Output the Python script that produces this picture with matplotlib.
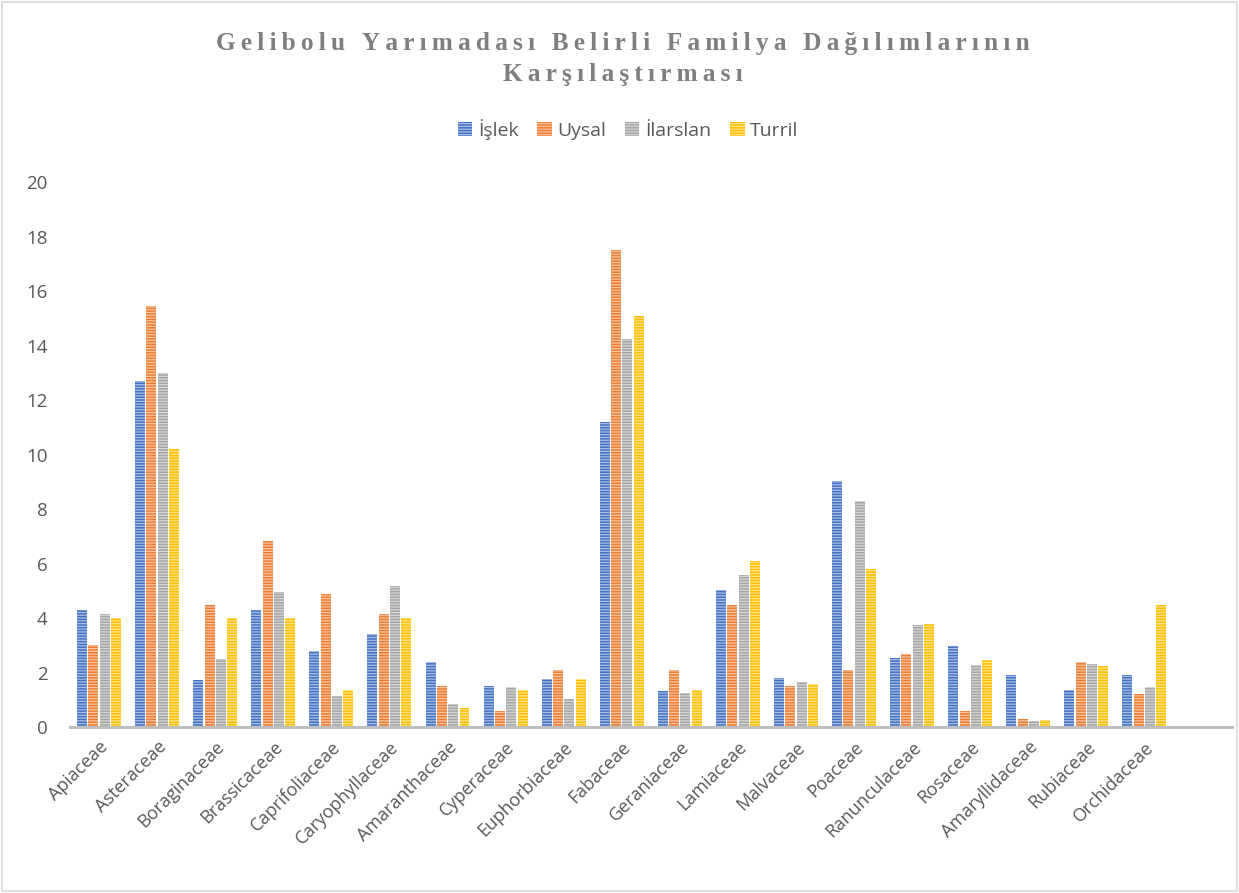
import matplotlib
matplotlib.use("Agg")
import matplotlib.pyplot as plt
import numpy as np
from matplotlib.patches import Rectangle

categories = ["Apiaceae", "Asteraceae", "Boraginaceae", "Brassicaceae", "Caprifoliaceae",
              "Caryophyllaceae", "Amaranthaceae", "Cyperaceae", "Euphorbiaceae", "Fabaceae",
              "Geraniaceae", "Lamiaceae", "Malvaceae", "Poaceae", "Ranunculaceae",
              "Rosaceae", "Amaryllidaceae", "Rubiaceae", "Orchidaceae"]
series_names = ["İşlek", "Uysal", "İlarslan", "Turril"]
islek    = [4.29, 12.7, 1.72, 4.29, 2.80, 3.41, 2.38, 1.50, 1.76, 11.2, 1.32, 5.03, 1.80, 9.03, 2.53, 2.97, 1.91, 1.36, 1.91]
uysal    = [3.00, 15.45, 4.48, 6.83, 4.88, 4.15, 1.50, 0.59, 2.09, 17.5, 2.09, 4.48, 1.50, 2.09, 2.68, 0.59, 0.30, 2.39, 1.21]
ilarslan = [4.15, 13.0, 2.50, 4.95, 1.14, 5.17, 0.84, 1.47, 1.03, 14.24, 1.25, 5.58, 1.65, 8.29, 3.74, 2.28, 0.22, 2.31, 1.47]
turril   = [4.00, 10.2, 4.00, 4.00, 1.36, 4.00, 0.70, 1.36, 1.76, 15.08, 1.36, 6.09, 1.58, 5.80, 3.78, 2.46, 0.26, 2.24, 4.48]
colors = ["#4472c4", "#ed7d31", "#a5a5a5", "#ffc000"]
yticks = list(range(0, 21, 2))

plt.rcParams['hatch.linewidth'] = 0.9
fig = plt.figure(figsize=(12.39, 8.93), dpi=100)
fig.patches.append(Rectangle((0.002, 0.002), 0.996, 0.996, transform=fig.transFigure,
                             fill=False, edgecolor="#d9d9d9", linewidth=1.2))
ax = fig.add_axes([0.0565, 0.1859, 0.9375, 0.6101])

x = np.arange(len(categories))
step = 0.195
width = 0.172
handles = []
for i, (vals, c, name) in enumerate(zip([islek, uysal, ilarslan, turril], colors, series_names)):
    b = ax.bar(x + (i - 1.5) * step, vals, width, color=c, edgecolor=(1, 1, 1, 0.55),
               hatch="------", linewidth=0.0, label=name)
    handles.append(b)

ax.set_xlim(-0.5, 19.5)
ax.set_ylim(0, 20)
ax.set_yticks(yticks)
ax.set_yticklabels([str(t) for t in yticks], fontsize=13.5, color="#595959", family="Open Sans")
ax.set_xticks(x)
ax.set_xticklabels(categories, rotation=45, ha="right", rotation_mode="anchor",
                   fontsize=13, color="#595959", family="Open Sans")
ax.tick_params(axis="both", length=0, pad=8)
ax.tick_params(axis="y", pad=16)
for s in ["top", "right", "left"]:
    ax.spines[s].set_visible(False)
ax.spines["bottom"].set_color("#bfbfbf")
ax.spines["bottom"].set_linewidth(2.2)

leg = fig.legend(handles=handles, labels=series_names, loc="center", bbox_to_anchor=(0.507, 0.855),
                 ncol=4, frameon=False, handlelength=0.75, handleheight=0.75,
                 columnspacing=0.95, handletextpad=0.3, prop={"family": "Open Sans", "size": 14})
for t in leg.get_texts():
    t.set_color("#595959")

def spaced(s):
    return "\u2009".join(list(s))

fig.text(0.503, 0.951, spaced("Gelibolu Yarımadası Belirli Familya Dağılımlarının"), ha="center", va="center",
         fontsize=18.3, fontweight="bold", color="#7f7f7f", family=["Liberation Serif", "DejaVu Serif"])
fig.text(0.503, 0.917, spaced("Karşılaştırması"), ha="center", va="center",
         fontsize=18.3, fontweight="bold", color="#7f7f7f", family=["Liberation Serif", "DejaVu Serif"])

fig.savefig("out.png", dpi=100)
